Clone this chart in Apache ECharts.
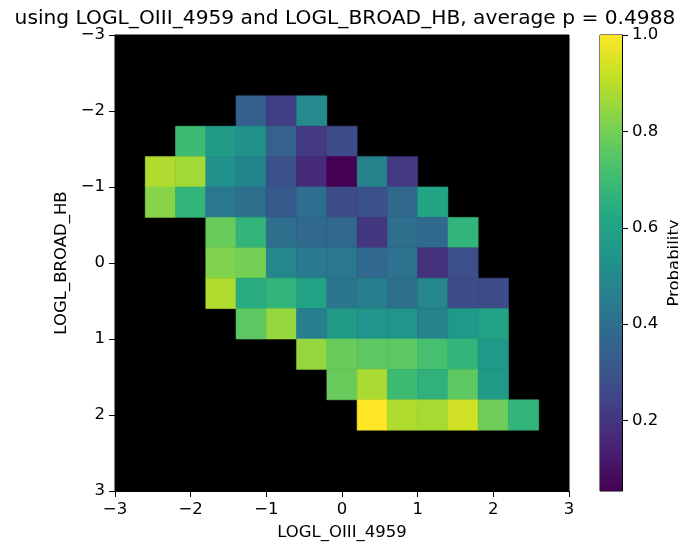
<!DOCTYPE html>
<html>
<head>
<meta charset="utf-8">
<script src="https://cdn.jsdelivr.net/npm/echarts@6/dist/echarts.min.js"></script>
<style>
  html, body { margin: 0; padding: 0; background: #fff; }
  #chart { width: 678px; height: 546px; }
</style>
</head>
<body>
<div id="chart"></div>
<script>
// bin centres (bins are 0.4 wide)
const xCentres = [-2.4, -2.0, -1.6, -1.2, -0.8, -0.4, 0.0, 0.4, 0.8, 1.2, 1.6, 2.0, 2.4]
const yCentres = [-2.0, -1.6, -1.2, -0.8, -0.4, 0.0, 0.4, 0.8, 1.2, 1.6, 2.0]
const binWidth = 0.4

// probability per bin, one row per y centre, null = empty bin
const probRows = [
    [null, null, null, 0.34, 0.224, 0.50, null, null, null, null, null, null, null],
    [null, 0.70, 0.57, 0.527, 0.347, 0.215, 0.27, null, null, null, null, null, null],
    [0.886, 0.868, 0.527, 0.48, 0.29, 0.17, 0.054, 0.47, 0.215, null, null, null, null],
    [0.83, 0.67, 0.43, 0.40, 0.32, 0.395, 0.27, 0.29, 0.376, 0.61, null, null, null],
    [null, null, 0.78, 0.67, 0.40, 0.376, 0.37, 0.205, 0.40, 0.37, 0.67, null, null],
    [null, null, 0.82, 0.80, 0.49, 0.44, 0.43, 0.37, 0.41, 0.19, 0.28, null, null],
    [null, null, 0.886, 0.64, 0.67, 0.60, 0.42, 0.46, 0.40, 0.49, 0.27, 0.27, null],
    [null, null, null, 0.76, 0.85, 0.46, 0.57, 0.54, 0.54, 0.47, 0.56, 0.60, null],
    [null, null, null, null, null, 0.85, 0.78, 0.76, 0.76, 0.72, 0.67, 0.56, null],
    [null, null, null, null, null, null, 0.78, 0.877, 0.70, 0.66, 0.76, 0.57, null],
    [null, null, null, null, null, null, null, 1.0, 0.886, 0.875, 0.934, 0.79, 0.67]
]

const cbarTicks = [0.2, 0.4, 0.6, 0.8, 1.0]
const pMin = 0.054
const pMax = 1.0

const viridis = ['#440154', '#482475', '#414487', '#355f8d', '#2a788e', '#21918c',
    '#22a884', '#44bf70', '#7ad151', '#bddf26', '#fde725']

const fonte = 'DejaVu Sans'
const menos = v => v < 0 ? '\u2212' + Math.abs(v) : '' + v

const cells = []
probRows.forEach((row, j) => {
    row.forEach((p, i) => {
        if (p !== null) cells.push([xCentres[i], yCentres[j], p])
    })
})

const dom = document.getElementById('chart')
const myChart = echarts.init(dom, null, { renderer: 'canvas' })

const eixoBase = {
    axisLine: { show: true, onZero: false, lineStyle: { color: '#000', width: 1 } },
    axisTick: { show: true, inside: false, length: 6, lineStyle: { color: '#000' } },
    splitLine: { show: false },
    axisLabel: { color: '#000', fontFamily: fonte, fontSize: 16.5, margin: 10 },
    nameTextStyle: { color: '#000', fontFamily: fonte, fontSize: 16.5 }
}

const option = {
    animation: false,
    backgroundColor: '#fff',
    title: {
        text: 'using LOGL_OIII_4959 and LOGL_BROAD_HB, average p = 0.4988',
        left: 340,
        textAlign: 'center',
        top: 4,
        textStyle: { fontFamily: fonte, fontSize: 20.2, fontWeight: 'normal', color: '#000' }
    },
    grid: [
        { left: 115, top: 35, width: 454, height: 456, show: true, backgroundColor: '#000', borderColor: '#000', borderWidth: 1, containLabel: false, outerBoundsMode: 'none' },
        { left: 600, top: 35, width: 22, height: 456, show: true, borderColor: '#000', borderWidth: 1, containLabel: false, outerBoundsMode: 'none' }
    ],
    xAxis: [{
        ...eixoBase,
        gridIndex: 0,
        type: 'value',
        position: 'bottom',
        min: -3,
        max: 3,
        interval: 1,
        name: 'LOGL_OIII_4959',
        nameLocation: 'middle',
        nameGap: 33,
        axisLabel: { ...eixoBase.axisLabel, formatter: menos }
    }, {
        gridIndex: 1,
        type: 'value',
        min: 0,
        max: 1,
        show: false
    }],
    yAxis: [{
        ...eixoBase,
        gridIndex: 0,
        type: 'value',
        position: 'left',
        inverse: true,
        min: -3,
        max: 3,
        interval: 1,
        name: 'LOGL_BROAD_HB',
        nameLocation: 'middle',
        nameRotate: 90,
        nameGap: 44,
        axisLabel: { ...eixoBase.axisLabel, formatter: menos }
    }, {
        ...eixoBase,
        gridIndex: 1,
        type: 'value',
        position: 'right',
        min: pMin,
        max: pMax,
        name: 'Probability',
        nameLocation: 'middle',
        nameRotate: 90,
        nameGap: 44,
        axisTick: { ...eixoBase.axisTick, customValues: cbarTicks },
        axisLabel: { ...eixoBase.axisLabel, customValues: cbarTicks, formatter: v => v.toFixed(1) }
    }],
    visualMap: {
        show: false,
        type: 'continuous',
        seriesIndex: 0,
        dimension: 2,
        min: pMin,
        max: pMax,
        inRange: { color: viridis }
    },
    series: [{
        type: 'custom',
        xAxisIndex: 0,
        yAxisIndex: 0,
        data: cells,
        encode: { x: 0, y: 1 },
        renderItem: (params, api) => {
            const x = api.value(0)
            const y = api.value(1)
            const a = api.coord([x - binWidth / 2, y - binWidth / 2])
            const b = api.coord([x + binWidth / 2, y + binWidth / 2])
            const cor = api.visual('color')
            return {
                type: 'rect',
                shape: {
                    x: Math.min(a[0], b[0]),
                    y: Math.min(a[1], b[1]),
                    width: Math.abs(b[0] - a[0]),
                    height: Math.abs(b[1] - a[1])
                },
                style: { fill: cor, stroke: cor, lineWidth: 0.6 }
            }
        }
    }, {
        type: 'custom',
        xAxisIndex: 1,
        yAxisIndex: 1,
        data: [[0, pMin, pMax]],
        renderItem: (params, api) => {
            const a = api.coord([0, api.value(1)])
            const b = api.coord([1, api.value(2)])
            const stops = viridis.map((c, k) => ({ offset: k / (viridis.length - 1), color: c }))
            return {
                type: 'rect',
                shape: { x: a[0], y: b[1], width: b[0] - a[0], height: a[1] - b[1] },
                style: { fill: new echarts.graphic.LinearGradient(0, 1, 0, 0, stops) }
            }
        }
    }]
}

myChart.setOption(option)
</script>
</body>
</html>
